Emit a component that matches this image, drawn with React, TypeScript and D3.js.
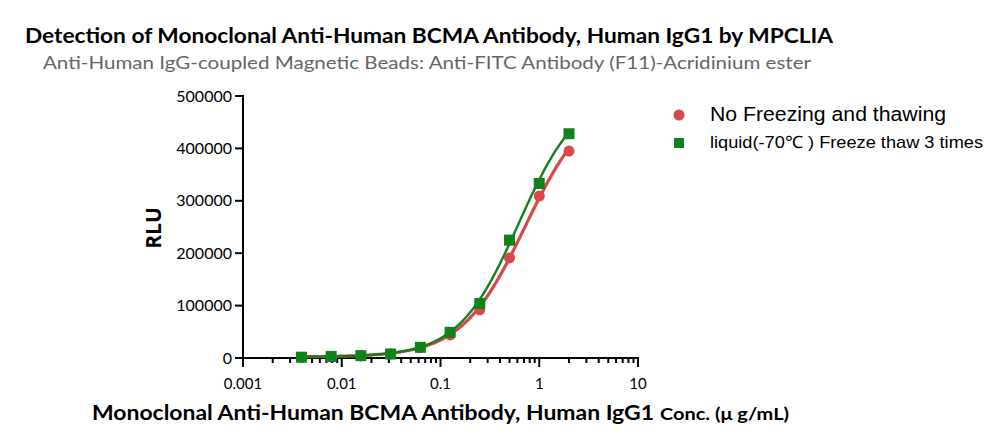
import React from "react";
import * as d3 from "d3";

const concentrations = [0.00390625, 0.0078125, 0.015625, 0.03125, 0.0625, 0.125, 0.25, 0.5, 1, 2];
const noFreezeRLU = [1500, 2500, 4000, 8000, 20000, 44000, 92000, 191000, 309000, 395000];
const freezeThawRLU = [1500, 3000, 4500, 7600, 20400, 49000, 104000, 225000, 333000, 428000];
const yTicks = [0, 100000, 200000, 300000, 400000, 500000];
const xTicks = [0.001, 0.01, 0.1, 1, 10];
const seriesNames = ["No Freezing and thawing", "liquid(-70\u2103 ) Freeze thaw 3 times"];

// 4PL fit parameters [bottom, top, ec50, hill]
const noFreezeFit = [2000, 500000, 0.72, 1.35];
const freezeThawFit = [2000, 512000, 0.62, 1.42];

const RED = "#d8474b";
const GREEN = "#11821a";

const App: React.FC = () => {
  const width = 1000;
  const height = 445;
  const x = d3.scaleLog().domain([0.001, 10]).range([243, 638]);
  const y = d3.scaleLinear().domain([0, 500000]).range([358, 96]);

  const fourPL = (p: number[]) => (c: number) => p[0] + (p[1] - p[0]) / (1 + Math.pow(p[2] / c, p[3]));
  const curvePath = (p: number[]) => {
    const f = fourPL(p);
    const lo = Math.log10(concentrations[0]);
    const hi = Math.log10(concentrations[concentrations.length - 1]);
    const xs = d3.range(0, 201).map((i) => Math.pow(10, lo + (i / 200) * (hi - lo)));
    return d3
      .line<number>()
      .x((c) => x(c))
      .y((c) => y(f(c)))(xs) as string;
  };

  const minorTicks: number[] = [];
  for (let e = -3; e < 1; e++) {
    for (let m = 2; m <= 9; m++) minorTicks.push(m * Math.pow(10, e));
  }

  const labelFont = "Lato, 'Open Sans', sans-serif";
  const legendFont = "'Liberation Sans', Arial, sans-serif";

  return (
    <svg width={width} height={height} style={{ position: "absolute", left: 0, top: 0 }}>
      <rect width={width} height={height} fill="#fff" />
      <text x={25} y={43} fontFamily={labelFont} fontWeight="bold" fontSize={21} fill="#000" textLength={808} lengthAdjust="spacingAndGlyphs">
        Detection of Monoclonal Anti-Human BCMA Antibody, Human IgG1 by MPCLIA
      </text>
      <text x={43} y={69} fontFamily={labelFont} fontSize={17} fill="#666" textLength={768} lengthAdjust="spacingAndGlyphs">
        Anti-Human IgG-coupled Magnetic Beads: Anti-FITC Antibody (F11)-Acridinium ester
      </text>

      {/* y axis */}
      <line x1={243} x2={243} y1={95} y2={359} stroke="#000" strokeWidth={2} />
      {yTicks.map((t) => (
        <g key={t}>
          <line x1={235} x2={243} y1={y(t)} y2={y(t)} stroke="#000" strokeWidth={2} />
          <text x={232} y={y(t) + 5.5} textAnchor="end" fontFamily={labelFont} fontSize={16} fill="#000">
            {t}
          </text>
        </g>
      ))}
      <text transform="translate(161,228) rotate(-90)" textAnchor="middle" fontFamily="'Open Sans', sans-serif" fontWeight="bold" fontSize={21} fill="#000">
        RLU
      </text>

      {/* x axis */}
      <line x1={242} x2={639} y1={358} y2={358} stroke="#000" strokeWidth={2} />
      {xTicks.map((t) => (
        <g key={t}>
          <line x1={x(t)} x2={x(t)} y1={358} y2={367} stroke="#000" strokeWidth={2} />
          <text x={x(t)} y={389} textAnchor="middle" fontFamily={labelFont} fontSize={15} fill="#000">
            {t}
          </text>
        </g>
      ))}
      {minorTicks.map((t) => (
        <line key={t} x1={x(t)} x2={x(t)} y1={358} y2={363} stroke="#000" strokeWidth={2} />
      ))}
      <text x={92} y={420} fontFamily={labelFont} fontWeight="bold" fontSize={21} fill="#000" textLength={562} lengthAdjust="spacingAndGlyphs">
        Monoclonal Anti-Human BCMA Antibody, Human IgG1
      </text>
      <text x={660} y={420} fontFamily={labelFont} fontWeight="bold" fontSize={17} fill="#000" textLength={129} lengthAdjust="spacingAndGlyphs">
        Conc. (μ g/mL)
      </text>

      {/* curves */}
      <path d={curvePath(noFreezeFit)} fill="none" stroke={RED} strokeWidth={3.2} />
      <path d={curvePath(freezeThawFit)} fill="none" stroke={GREEN} strokeWidth={2.4} />

      {concentrations.map((c, i) => (
        <circle key={"r" + i} cx={x(c)} cy={y(noFreezeRLU[i])} r={5.5} fill={RED} />
      ))}
      {concentrations.map((c, i) => (
        <rect key={"g" + i} x={x(c) - 5.5} y={y(freezeThawRLU[i]) - 5.5} width={11} height={11} fill={GREEN} />
      ))}

      {/* legend */}
      <circle cx={679} cy={115} r={5.5} fill={RED} />
      <text x={710} y={121} fontFamily={legendFont} fontSize={19.5} fill="#000" textLength={236} lengthAdjust="spacingAndGlyphs">
        {seriesNames[0]}
      </text>
      <rect x={674} y={138} width={10} height={10} fill={GREEN} />
      <text x={710} y={148} fontFamily={legendFont} fontSize={17} fill="#000" textLength={273} lengthAdjust="spacingAndGlyphs">
        {seriesNames[1]}
      </text>
    </svg>
  );
};

export default App;
